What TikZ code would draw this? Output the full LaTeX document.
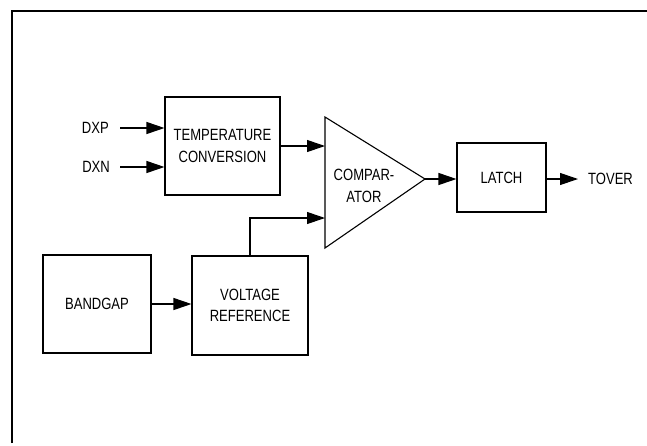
\documentclass[tikz,border=0pt]{standalone}
\usepackage{fontspec}
\setmainfont[FakeStretch=0.8]{Liberation Sans}
\usetikzlibrary{arrows.meta}
\begin{document}
\begin{tikzpicture}[x=1pt, y=-1pt, font=\fontsize{16.3}{21.7}\selectfont,
        block/.style={draw, line width=1.1pt, align=center, inner sep=0pt},
        lbl/.style={inner sep=0pt},
        sig/.style={line width=1.1pt, -{Triangle[length=18pt, width=12pt]}}]
    \useasboundingbox (0,0) rectangle (647,445);
    \draw[line width=2.2pt] (12,443) -- (12,11) -- (647,11);
    \node[block, minimum width=115pt, minimum height=98pt] (temp) at (222.5,146) {TEMPERATURE\\CONVERSION};
    \node[lbl, anchor=east] (dxp) at (109,128) {DXP};
    \node[lbl, anchor=east] (dxn) at (110,167) {DXN};
    \draw[sig, shorten <=11pt] (dxp.east) -- (dxp.east -| temp.west);
    \draw[sig, shorten <=10pt] (dxn.east) -- (dxn.east -| temp.west);
    \coordinate (cmpp) at (325,147);
    \coordinate (cmpn) at (325,218);
    \coordinate (cmpo) at (425,179);
    \draw[line width=1.1pt] (325,117) -- (cmpo) -- (325,248) -- cycle;
    \node[lbl, align=center] (cmp) at (364,186) {COMPAR-\\ATOR};
    \draw[sig] (temp.east) -- (temp.east -| cmpp);
    \node[block, minimum width=89pt, minimum height=69pt] (latch) at (501.5,177.5) {LATCH};
    \draw[sig] (cmpo) -- (cmpo -| latch.west);
    \node[lbl, anchor=west] (tover) at (588,179) {TOVER};
    \draw[sig, shorten >=10pt] (latch.east |- tover) -- (tover.west);
    \node[block, minimum width=108pt, minimum height=98pt] (bg) at (97,304) {BANDGAP};
    \node[block, minimum width=116pt, minimum height=99pt] (vref) at (250,305.5) {VOLTAGE\\REFERENCE};
    \draw[sig] (bg.east) -- (bg.east -| vref.west);
    \draw[sig] (vref.north) |- (cmpn);
\end{tikzpicture}
\end{document}
